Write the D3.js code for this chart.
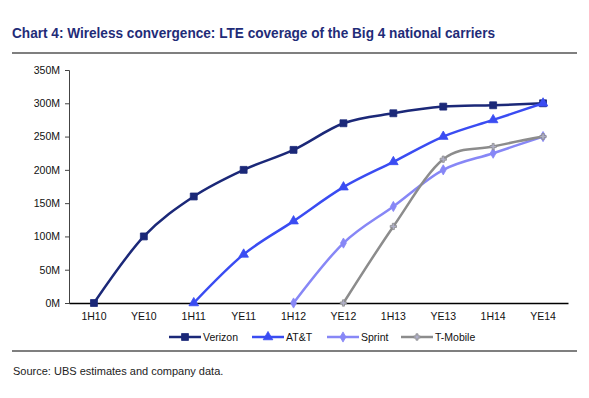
<!DOCTYPE html>
<html>
<head>
<meta charset="utf-8">
<script src="https://cdn.jsdelivr.net/npm/d3@7"></script>
<style>
  body { margin: 0; background: #fff; }
  text { font-family: "Liberation Sans", Arial, sans-serif; }
</style>
</head>
<body>
<script>
  const periods = ['1H10', 'YE10', '1H11', 'YE11', '1H12', 'YE12', '1H13', 'YE13', '1H14', 'YE14'];
  const verizon = [0, 100, 160, 200, 230, 270, 285, 295, 297, 300];
  const att = [null, null, 0, 73, 123, 174, 212, 250, 275, 300];
  const sprint = [null, null, null, null, 0, 90, 145, 200, 225, 250];
  const tmobile = [null, null, null, null, null, 0, 115, 216, 235, 250];
  const yTicks = [0, 50, 100, 150, 200, 250, 300, 350];

  const w = 589;
  const h = 398;

  const series = [
    { name: 'Verizon', values: verizon, color: '#1b2878', symbol: d3.symbolSquare, size: 48, fill: '#1b2878' },
    { name: 'AT&T', values: att, color: '#3a4cf2', symbol: d3.symbolTriangle, size: 40, fill: '#3a4cf2' },
    { name: 'Sprint', values: sprint, color: '#8787f6', symbol: d3.symbolDiamond, size: 30, fill: '#8787f6' },
    { name: 'T-Mobile', values: tmobile, color: '#8c8c8c', symbol: d3.symbolCross, size: 22, fill: '#b0b0c8' }
  ];

  const svg = d3.select('body').append('svg')
    .attr('width', w)
    .attr('height', h);

  // title and rules
  svg.append('text')
    .attr('x', 12)
    .attr('y', 38)
    .attr('textLength', 483)
    .attr('lengthAdjust', 'spacingAndGlyphs')
    .style('font-size', '15px')
    .style('font-weight', 'bold')
    .attr('fill', '#1f2c78')
    .text('Chart 4: Wireless convergence: LTE coverage of the Big 4 national carriers');

  svg.append('line')
    .attr('x1', 12).attr('x2', 577)
    .attr('y1', 53).attr('y2', 53)
    .attr('stroke', '#555').attr('stroke-width', 1.5);

  svg.append('line')
    .attr('x1', 12).attr('x2', 577)
    .attr('y1', 351).attr('y2', 351)
    .attr('stroke', '#555').attr('stroke-width', 1.5);

  svg.append('text')
    .attr('x', 13)
    .attr('y', 375)
    .style('font-size', '11px')
    .attr('fill', '#222')
    .text('Source: UBS estimates and company data.');

  // scales
  const x = d3.scaleBand()
    .domain(periods)
    .range([69, 568]);
  const cx = (p) => x(p) + x.bandwidth() / 2;

  const y = d3.scaleLinear()
    .domain([0, 350])
    .range([303, 70]);

  // axes
  const yAxis = d3.axisLeft(y)
    .tickValues(yTicks)
    .tickSize(4)
    .tickPadding(5)
    .tickFormat((d) => d + 'M');
  const gy = svg.append('g')
    .attr('transform', 'translate(69,0)')
    .call(yAxis);
  gy.selectAll('text').style('font-size', '10.5px').attr('fill', '#111').attr('font-family', null);
  gy.selectAll('line, path').attr('stroke', '#444');

  const xAxis = d3.axisBottom(x)
    .tickSize(0)
    .tickPadding(10);
  const gx = svg.append('g')
    .attr('transform', 'translate(0,303)')
    .call(xAxis);
  gx.selectAll('text').style('font-size', '10.5px').attr('fill', '#111').attr('font-family', null);
  gx.select('.domain').attr('stroke', '#000').attr('stroke-width', 1.5);

  // lines
  const line = d3.line()
    .defined((d) => d.v !== null)
    .x((d) => cx(d.p))
    .y((d) => y(d.v))
    .curve(d3.curveCardinal);

  series.forEach((s) => {
    const pts = periods.map((p, i) => ({ p: p, v: s.values[i] }));
    svg.append('path')
      .datum(pts)
      .attr('fill', 'none')
      .attr('stroke', s.color)
      .attr('stroke-width', 2.5)
      .attr('d', line);

    svg.append('g').selectAll('path')
      .data(pts.filter((d) => d.v !== null))
      .enter()
      .append('path')
      .attr('transform', (d) => 'translate(' + cx(d.p) + ',' + y(d.v) + ')')
      .attr('d', d3.symbol().type(s.symbol).size(s.size))
      .attr('fill', s.fill)
      .attr('stroke', s.color)
      .attr('stroke-width', 0.8);
  });

  // legend
  const legendX = [169, 252, 327, 401];
  const legend = svg.append('g');
  series.forEach((s, i) => {
    const lx = legendX[i];
    legend.append('line')
      .attr('x1', lx).attr('x2', lx + 32)
      .attr('y1', 337).attr('y2', 337)
      .attr('stroke', s.color).attr('stroke-width', 2.5);
    legend.append('path')
      .attr('transform', 'translate(' + (lx + 16) + ',337)')
      .attr('d', d3.symbol().type(s.symbol).size(s.size))
      .attr('fill', s.fill)
      .attr('stroke', s.color)
      .attr('stroke-width', 0.8);
    legend.append('text')
      .attr('x', lx + 34)
      .attr('y', 337)
      .attr('dy', '0.35em')
      .style('font-size', '10.5px')
      .attr('fill', '#111')
      .text(s.name);
  });
</script>
</body>
</html>
